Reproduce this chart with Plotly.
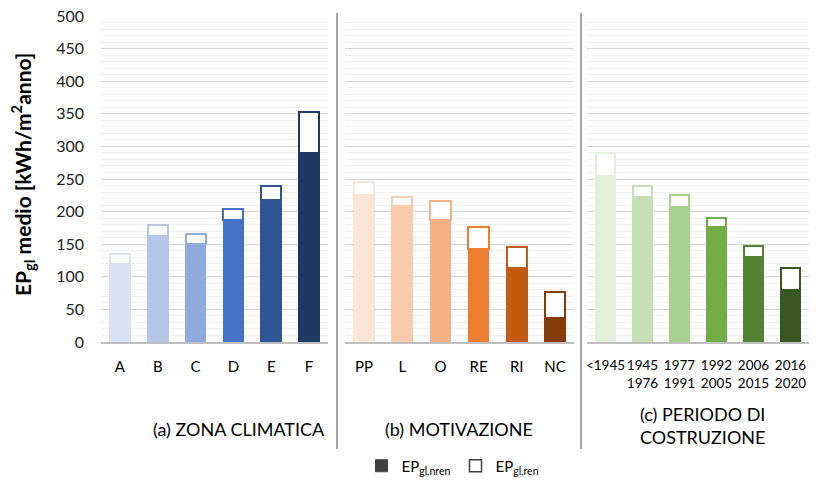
import plotly.graph_objects as go

# ---- data ----
zone_cats = ["A", "B", "C", "D", "E", "F"]
zone_nren = [120, 162, 150, 187, 218, 290]
zone_ren = [15, 18, 15, 17, 21, 63]
zone_colors = ["#D9E2F3", "#B4C7E7", "#8FAADC", "#4472C4", "#2F5597", "#203864"]

mot_cats = ["PP", "L", "O", "RE", "RI", "NC"]
mot_nren = [225, 209, 187, 142, 113, 37]
mot_ren = [21, 14, 30, 35, 33, 40]
mot_colors = ["#FBE5D6", "#F8CBAD", "#F4B183", "#ED7D31", "#C55A11", "#843C0C"]

per_cats = ["&lt;1945", "1945<br>1976", "1977<br>1991", "1992<br>2005", "2006<br>2015", "2016<br>2020"]
per_nren = [255, 222, 207, 177, 130, 79]
per_ren = [35, 18, 19, 13, 17, 35]
per_colors = ["#E2F0D9", "#C5E0B4", "#A9D18E", "#70AD47", "#548235", "#385723"]

y_ticks = [0, 50, 100, 150, 200, 250, 300, 350, 400, 450, 500]
group_titles = ["(a) ZONA CLIMATICA", "(b) MOTIVAZIONE", "(c) PERIODO DI<br>COSTRUZIONE"]

FONT = "Lato"
fig = go.Figure()

groups = [
    (zone_cats, zone_nren, zone_ren, zone_colors, "x", "y", 15),
    (mot_cats, mot_nren, mot_ren, mot_colors, "x2", "y2", 15),
    (per_cats, per_nren, per_ren, per_colors, "x3", "y3", 13.5),
]
for cats, nren, ren, cols, xa, ya, _ in groups:
    fig.add_trace(go.Bar(x=cats, y=nren, xaxis=xa, yaxis=ya, width=0.53,
                         marker=dict(color=cols, line=dict(color=cols, width=1.5)),
                         showlegend=False, hoverinfo="skip"))
    fig.add_trace(go.Bar(x=cats, y=ren, xaxis=xa, yaxis=ya, width=0.53,
                         marker=dict(color="white", line=dict(color=cols, width=2)),
                         showlegend=False, hoverinfo="skip"))

# legend entries
fig.add_trace(go.Bar(x=[None], y=[None], name="EP<sub>gl,nren</sub>",
                     marker=dict(color="#404040", line=dict(color="#404040", width=1)),
                     showlegend=True, xaxis="x", yaxis="y"))
fig.add_trace(go.Bar(x=[None], y=[None], name="EP<sub>gl,ren</sub>",
                     marker=dict(color="white", line=dict(color="#404040", width=1.5)),
                     showlegend=True, xaxis="x", yaxis="y"))

OFF = 8  # page body margin
FW, FH = 819 - OFF, 482 - OFF
L = 101 - OFF
T = 16 - OFF
R = FW - (809 - OFF)
B = FH - (342 - OFF)
W = FW - L - R
H = FH - T - B

def px_x(p):
    return (p - OFF - L) / W

def px_y(p):
    return (FH - B - (p - OFF)) / H

doms = [[px_x(101), px_x(328)], [px_x(345), px_x(574)], [px_x(587), px_x(809)]]

xcommon = dict(showgrid=False, showline=True, linecolor="#BFBFBF", linewidth=1.5,
               ticks="", ticklabelstandoff=10, tickangle=0)
ycommon = dict(range=[0, 500], tickvals=y_ticks, showgrid=True, gridcolor="#D6D6D6",
               gridwidth=1, zeroline=False, showline=False, ticklabeloverflow="allow",
               minor=dict(dtick=10, showgrid=True, gridcolor="#F0F0F0", gridwidth=1),
               tickfont=dict(family=FONT, size=16, color="#222222"))

layout = dict(
    width=FW, height=FH,
    margin=dict(l=L, r=R, t=T, b=B, autoexpand=False),
    paper_bgcolor="white", plot_bgcolor="white",
    barmode="stack", bargap=0.47,
    showlegend=True,
    legend=dict(orientation="h", x=px_x(453), xanchor="center", y=px_y(466), yanchor="middle",
                traceorder="normal", itemwidth=30,
                font=dict(family=FONT, size=15, color="#000000"),
                bgcolor="rgba(0,0,0,0)"),
)
for i, xa in enumerate(["xaxis", "xaxis2", "xaxis3"]):
    layout[xa] = dict(xcommon, domain=doms[i], anchor="y" if i == 0 else "y%d" % (i + 1),
                      tickfont=dict(family=FONT, size=groups[i][6], color="#000000"))
for i, ya in enumerate(["yaxis", "yaxis2", "yaxis3"]):
    d = dict(ycommon, anchor="x" if i == 0 else "x%d" % (i + 1), domain=[0, 1])
    if i > 0:
        d["showticklabels"] = False
    else:
        d["ticklabelstandoff"] = 16
    layout[ya] = d
fig.update_layout(**layout)

# separators
for xp in [337, 581]:
    fig.add_shape(type="line", xref="paper", yref="paper",
                  x0=px_x(xp), x1=px_x(xp), y0=px_y(13), y1=px_y(449),
                  line=dict(color="#A6A6A6", width=2))

# group titles
title_pos = [(239, 429), (459, 429), (702, 425)]
for t, (xp, yp) in zip(group_titles, title_pos):
    fig.add_annotation(text=t, xref="paper", yref="paper", x=px_x(xp), y=px_y(yp),
                       xanchor="center", yanchor="middle", showarrow=False, align="center",
                       font=dict(family=FONT, size=18, color="#000000"))

# y title
fig.add_annotation(text="<b>EP<sub>gl</sub> medio [kWh/m<sup>2</sup>anno]</b>",
                   xref="paper", yref="paper", x=px_x(22), y=px_y(175), textangle=-90,
                   xanchor="center", yanchor="middle", showarrow=False,
                   font=dict(family=FONT, size=21, color="#000000"))

fig.write_html("out.html")
